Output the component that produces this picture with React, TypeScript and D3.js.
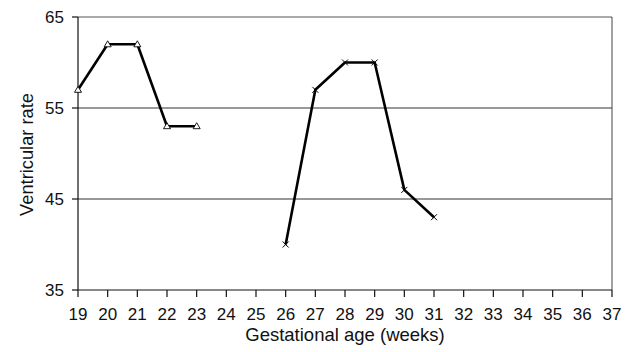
import React from "react";
import * as d3 from "d3";

const weeks1 = [19, 20, 21, 22, 23];
const rate1 = [57, 62, 62, 53, 53];
const weeks2 = [26, 27, 28, 29, 30, 31];
const rate2 = [40, 57, 60, 60, 46, 43];
const xTicks = d3.range(19, 38);
const yTicks = [35, 45, 55, 65];

const W = 637, H = 352;
const m = { left: 78, right: 25, top: 17, bottom: 62 };

export default function App() {
  const x = d3.scaleLinear().domain([19, 37]).range([m.left, W - m.right]);
  const y = d3.scaleLinear().domain([35, 65]).range([H - m.bottom, m.top]);
  const line = d3.line<[number, number]>().x(d => x(d[0])).y(d => y(d[1]));
  const s1 = weeks1.map((w, i) => [w, rate1[i]] as [number, number]);
  const s2 = weeks2.map((w, i) => [w, rate2[i]] as [number, number]);
  const font = "'Liberation Sans', Arial, sans-serif";
  return (
    <svg width={W} height={H} style={{ position: "absolute", left: 0, top: 0, background: "#fff" }}>
      {/* gridlines */}
      {[45, 55].map(v => (
        <line key={v} x1={x(19)} x2={x(37)} y1={y(v)} y2={y(v)} stroke="#333" strokeWidth={1} />
      ))}
      {/* frame */}
      <line x1={x(19)} x2={x(37)} y1={y(65)} y2={y(65)} stroke="#555" strokeWidth={1} />
      <line x1={x(37)} x2={x(37)} y1={y(65)} y2={y(35)} stroke="#444" strokeWidth={1} />
      <line x1={x(19)} x2={x(19)} y1={y(65)} y2={y(35)} stroke="#111" strokeWidth={1.2} />
      <line x1={x(19)} x2={x(37)} y1={y(35)} y2={y(35)} stroke="#111" strokeWidth={1.2} />
      {/* y ticks */}
      {yTicks.map(v => (
        <g key={v}>
          <line x1={x(19) - 6} x2={x(19)} y1={y(v)} y2={y(v)} stroke="#111" strokeWidth={1.2} />
          <text x={x(19) - 14} y={y(v)} dy="0.36em" textAnchor="end" fontFamily={font} fontSize={17} fill="#111">{v}</text>
        </g>
      ))}
      {/* x ticks */}
      {xTicks.map(v => (
        <g key={v}>
          <line x1={x(v)} x2={x(v)} y1={y(35)} y2={y(35) + 7} stroke="#111" strokeWidth={1.2} />
          <text x={x(v)} y={y(35) + 30} textAnchor="middle" fontFamily={font} fontSize={17} fill="#111">{v}</text>
        </g>
      ))}
      {/* axis titles */}
      <text x={(x(19) + x(37)) / 2} y={341} textAnchor="middle" fontFamily={font} fontSize={18.5} fill="#111">Gestational age (weeks)</text>
      <text transform={`translate(33,${(y(35) + y(65)) / 2 + 1}) rotate(-90)`} textAnchor="middle" fontFamily={font} fontSize={18.3} fill="#111">Ventricular rate</text>
      {/* series */}
      <path d={line(s1) || ""} fill="none" stroke="#000" strokeWidth={2.6} strokeLinejoin="round" />
      <path d={line(s2) || ""} fill="none" stroke="#000" strokeWidth={2.6} strokeLinejoin="round" />
      {s1.map((d, i) => (
        <path key={i} d={`M${x(d[0])},${y(d[1]) - 3.5}L${x(d[0]) + 3.5},${y(d[1]) + 2.5}L${x(d[0]) - 3.5},${y(d[1]) + 2.5}Z`} fill="#fff" stroke="#000" strokeWidth={0.9} />
      ))}
      {s2.map((d, i) => (
        <path key={i} d={`M${x(d[0]) - 3},${y(d[1]) - 3}L${x(d[0]) + 3},${y(d[1]) + 3}M${x(d[0]) + 3},${y(d[1]) - 3}L${x(d[0]) - 3},${y(d[1]) + 3}`} fill="none" stroke="#000" strokeWidth={1} />
      ))}
    </svg>
  );
}
